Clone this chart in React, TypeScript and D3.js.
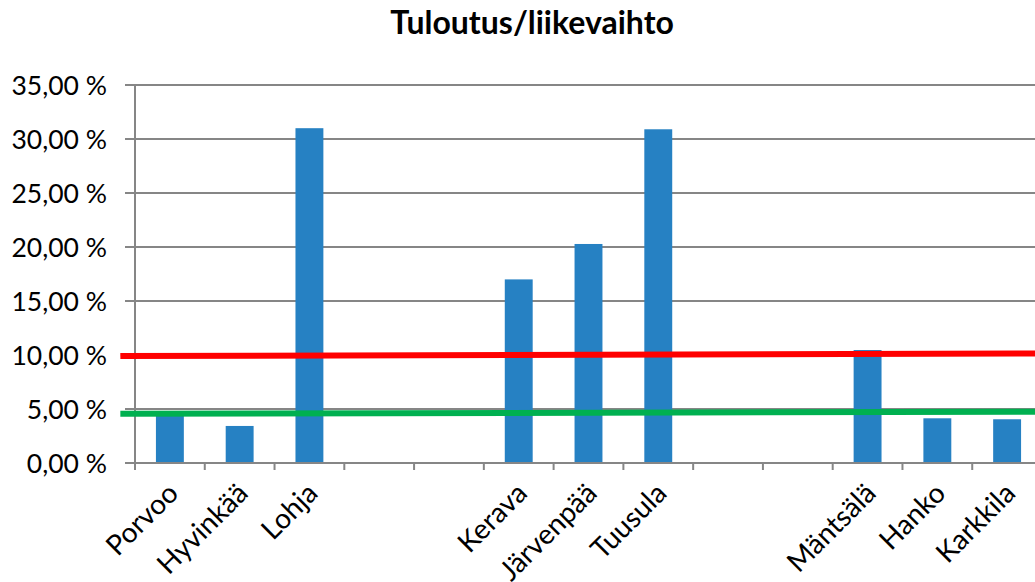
import React from "react";
import * as d3 from "d3";

const categories = ["Porvoo", "Hyvinkää", "Lohja", "", "", "Kerava", "Järvenpää", "Tuusula", "", "", "Mäntsälä", "Hanko", "Karkkila"];
const values: (number | null)[] = [4.5, 3.43, 31.0, null, null, 17.0, 20.28, 30.9, null, null, 10.46, 4.14, 4.05];
const yTicks = [0, 5, 10, 15, 20, 25, 30, 35];
// reference lines: [start value, end value] across the plot
const redLine = [9.9, 10.15];
const greenLine = [4.55, 4.75];
const title = "Tuloutus/liikevaihto";

const W = 1035, H = 582;
const FONT = "Lato, 'Open Sans', sans-serif";

export default function App() {
  const x = d3.scaleBand<number>()
    .domain(categories.map((_, i) => i))
    .range([135, 1042])
    .paddingInner(0.6)
    .paddingOuter(0.3);
  const step = x.step();
  const x0 = 135;
  const y = d3.scaleLinear().domain([0, 35]).range([463, 85]);
  const grid = "#868686";
  const lineX = d3.scaleLinear().domain([0, 1]).range([x0 - 0.21 * step, x0 + 13 * step]);
  const lineGen = d3.line<number>().x((_, i) => lineX(i)).y(v => y(v));

  return (
    <svg width={W} height={H} style={{ position: "absolute", left: 0, top: 0, background: "#fff" }} fontFamily={FONT}>
      <text x={532} y={34} textAnchor="middle" fontWeight="bold" fontSize={32} fill="#000">{title}</text>
      {yTicks.map(t => (
        <g key={t}>
          <line x1={125} x2={W} y1={y(t)} y2={y(t)} stroke={grid} strokeWidth={2} />
          <text x={107} y={y(t)} dy="0.36em" textAnchor="end" fontSize={26.5} fill="#000">
            {d3.format(".2f")(t).replace(".", ",") + " %"}
          </text>
        </g>
      ))}
      <line x1={x0} x2={x0} y1={y(35)} y2={y(0) + 7} stroke={grid} strokeWidth={2} />
      {categories.map((_, i) => (
        <line key={"t" + i} x1={x0 + (i + 1) * step} x2={x0 + (i + 1) * step} y1={y(0)} y2={y(0) + 7} stroke={grid} strokeWidth={2} />
      ))}
      {values.map((v, i) => v == null ? null : (
        <rect key={"b" + i} x={x(i)} y={y(v)} width={x.bandwidth()} height={y(0) - y(v)} fill="#2681C3" />
      ))}
      <line x1={x0} x2={W} y1={y(0)} y2={y(0)} stroke={grid} strokeWidth={2} />
      <path d={lineGen(redLine) || ""} stroke="#FF0000" strokeWidth={6} fill="none" />
      <path d={lineGen(greenLine) || ""} stroke="#00B050" strokeWidth={6} fill="none" />
      {categories.map((c, i) => c ? (
        <text key={"l" + i} transform={`translate(${(x(i) as number) + x.bandwidth() / 2 + 10},${495}) rotate(-45)`}
          textAnchor="end" fontSize={28} fill="#000">{c}</text>
      ) : null)}
    </svg>
  );
}
